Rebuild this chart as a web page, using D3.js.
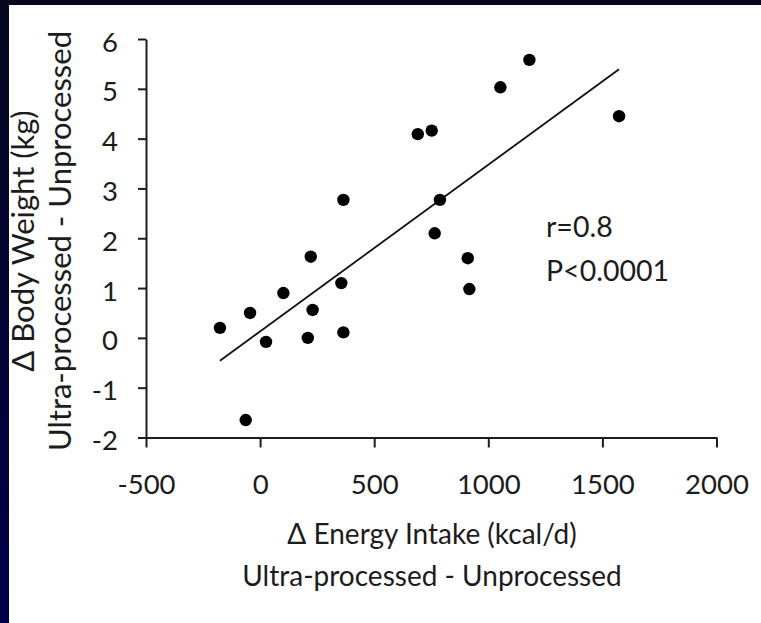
<!DOCTYPE html>
<html>
<head>
<meta charset="utf-8">
<script src="https://cdnjs.cloudflare.com/ajax/libs/d3/7.8.5/d3.min.js"></script>
<style>
  body { margin: 0; background: #fff; }
  svg { display: block; }
</style>
</head>
<body>
<svg width="761" height="623"></svg>
<script>
// per-subject differences, ultra-processed minus unprocessed
var energyIntake = [-176, -44, 26, 102, 222, 230, 209, 365, 356, 365, -63, 691, 752, 788, 765, 910, 917, 1053, 1180, 1573];
var bodyWeight   = [0.2, 0.5, -0.08, 0.9, 1.63, 0.56, 0.0, 2.77, 1.1, 0.11, -1.65, 4.09, 4.16, 2.77, 2.1, 1.6, 0.98, 5.03, 5.58, 4.45];

var xTicks = [-500, 0, 500, 1000, 1500, 2000];
var yTicks = [-2, -1, 0, 1, 2, 3, 4, 5, 6];

var statLines = ["r=0.8", "P<0.0001"];
var xTitle = ["\u0394 Energy Intake (kcal/d)", "Ultra-processed - Unprocessed"];
var yTitle = ["\u0394 Body Weight (kg)", "Ultra-processed - Unprocessed"];

var font = "Lato, 'Open Sans', sans-serif",
    ink = "#1c1c1c";

var svg = d3.select("svg");

// dark slide frame on the top and left edges
var defs = svg.append("defs");
var grad = defs.append("linearGradient")
    .attr("id", "frame").attr("x1", 0).attr("y1", 0).attr("x2", 0).attr("y2", 1);
grad.append("stop").attr("offset", "0%").attr("stop-color", "#07071f");
grad.append("stop").attr("offset", "100%").attr("stop-color", "#00004a");

svg.append("rect").attr("width", 761).attr("height", 623).attr("fill", "url(#frame)");
svg.append("rect").attr("x", 9).attr("y", 5).attr("width", 752).attr("height", 618).attr("fill", "#fff");

var x = d3.scaleLinear().domain([-500, 2000]).range([146, 716.5]);
var y = d3.scaleLinear().domain([-2, 6]).range([437.5, 39]);

var xAxis = svg.append("g")
    .attr("transform", "translate(0," + y(-2) + ")")
    .call(d3.axisBottom(x).tickValues(xTicks).tickSize(10).tickSizeOuter(0));

var yAxis = svg.append("g")
    .attr("transform", "translate(" + x(-500) + ",0)")
    .call(d3.axisLeft(y).tickValues(yTicks).tickSize(8).tickSizeOuter(0));

[xAxis, yAxis].forEach(function(a) {
  a.attr("font-family", null).attr("font-size", null);
  a.select(".domain").attr("stroke", ink).attr("stroke-width", 2);
  a.selectAll(".tick line").attr("stroke", ink).attr("stroke-width", 2);
  a.selectAll(".tick text")
      .attr("fill", ink)
      .style("font-family", font)
      .style("font-size", "27.5px");
});

xAxis.selectAll(".tick text").attr("y", 56).attr("dy", 0);
yAxis.selectAll(".tick text").attr("x", -28).attr("dy", 12);
// minus sign in the reference is a plain hyphen
svg.selectAll(".tick text").text(function(d) { return String(d); });

// least squares fit through the points
var mx = d3.mean(energyIntake), my = d3.mean(bodyWeight);
var sxy = d3.sum(energyIntake, function(v, i) { return (v - mx) * (bodyWeight[i] - my); });
var sxx = d3.sum(energyIntake, function(v) { return (v - mx) * (v - mx); });
var slope = sxy / sxx, intercept = my - slope * mx;
var fitX = d3.extent(energyIntake);

var line = d3.line()
    .x(function(d) { return x(d); })
    .y(function(d) { return y(intercept + slope * d); });

svg.append("path")
    .datum(fitX)
    .attr("d", line)
    .attr("fill", "none")
    .attr("stroke", "#111")
    .attr("stroke-width", 1.8);

svg.selectAll(".dot")
    .data(energyIntake)
  .enter().append("circle")
    .attr("class", "dot")
    .attr("cx", function(d) { return x(d); })
    .attr("cy", function(d, i) { return y(bodyWeight[i]); })
    .attr("r", 6.2)
    .attr("fill", "#000");

svg.selectAll(".stat")
    .data(statLines)
  .enter().append("text")
    .attr("class", "stat")
    .attr("x", 546)
    .attr("y", function(d, i) { return 237 + i * 43.5; })
    .attr("fill", ink)
    .style("font-family", font)
    .style("font-size", "28.5px")
    .text(function(d) { return d; });

svg.selectAll(".xtitle")
    .data(xTitle)
  .enter().append("text")
    .attr("class", "xtitle")
    .attr("x", 432)
    .attr("y", function(d, i) { return 544 + i * 41.5; })
    .attr("text-anchor", "middle")
    .attr("fill", ink)
    .style("font-family", font)
    .style("font-size", "28px")
    .text(function(d) { return d; });

svg.selectAll(".ytitle")
    .data(yTitle)
  .enter().append("text")
    .attr("class", "ytitle")
    .attr("transform", function(d, i) { return "translate(" + (34 + i * 37) + ",241) rotate(-90)"; })
    .attr("text-anchor", "middle")
    .attr("fill", ink)
    .style("font-family", font)
    .style("font-size", "31px")
    .text(function(d) { return d; });
</script>
</body>
</html>
